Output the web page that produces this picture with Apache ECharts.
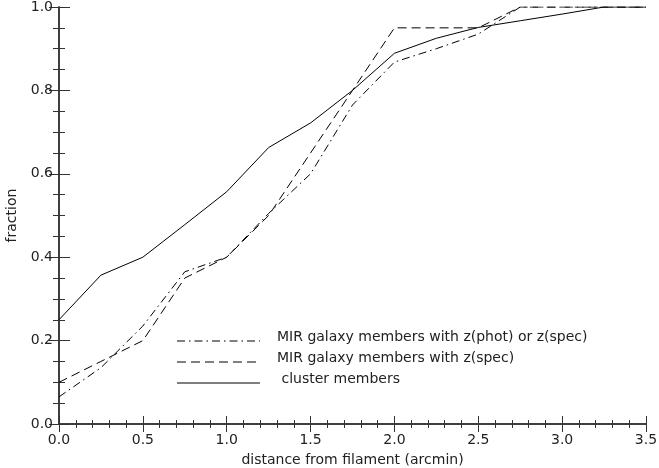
<!DOCTYPE html>
<html>
<head>
<meta charset="utf-8">
<script src="https://cdn.jsdelivr.net/npm/echarts@6/dist/echarts.min.js"></script>
<style>
  html, body { margin: 0; padding: 0; background: #fff; }
  #chart { width: 659px; height: 468px; }
</style>
</head>
<body>
<div id="chart"></div>
<script>
// distance from filament (arcmin)
var distances = [0, 0.25, 0.5, 0.75, 1.0, 1.25, 1.5, 1.75, 2.0, 2.25, 2.5, 2.75, 3.0, 3.25, 3.5];
// cumulative fractions
var photOrSpec = [0.065, 0.135, 0.235, 0.365, 0.40, 0.505, 0.60, 0.765, 0.868, 0.90, 0.935, 1.0, 1.0, 1.0, 1.0];
var specOnly   = [0.10, 0.15, 0.20, 0.35, 0.40, 0.50, 0.65, 0.80, 0.95, 0.95, 0.95, 1.0, 1.0, 1.0, 1.0];
var cluster    = [0.25, 0.357, 0.40, 0.478, 0.557, 0.663, 0.722, 0.80, 0.889, 0.925, 0.951, 0.967, 0.983, 1.0, 1.0];

var legendNames = [
  'MIR galaxy members with z(phot) or z(spec)',
  'MIR galaxy members with z(spec)',
  ' cluster members'
];

var dashDot = [8, 4, 1.5, 4];
var dashed = [9, 5];

function pairs(ys) {
  return distances.map(function (x, i) { return [x, ys[i]]; });
}

var font = 'DejaVu Sans';
var fs = 14;
var axisCol = '#333';
var textCol = '#222';

var chart = echarts.init(document.getElementById('chart'));

function legendRow(i, dash, y) {
  return [
    { type: 'line', shape: { x1: 177, y1: y, x2: 260, y2: y },
      style: { stroke: '#000', lineWidth: 1, lineDash: dash } },
    { type: 'text', x: 277, y: y - 4,
      style: { text: legendNames[i], fill: textCol, font: fs + 'px "' + font + '"', textVerticalAlign: 'middle' } }
  ];
}

var option = {
  animation: false,
  backgroundColor: '#fff',
  grid: { left: 59, right: 13, top: 7, bottom: 44, containLabel: false, outerBoundsMode: 'none' },
  xAxis: [{
    type: 'value', min: 0, max: 3.5, interval: 0.5,
    name: 'distance from filament (arcmin)', nameLocation: 'middle', nameGap: 29,
    nameTextStyle: { fontFamily: font, fontSize: fs, color: textCol },
    axisLine: { lineStyle: { color: axisCol, width: 1.5 } },
    axisTick: { inside: true, length: 8, lineStyle: { color: axisCol } },
    minorTick: { show: true, splitNumber: 5, length: 4, lineStyle: { color: axisCol } },
    axisLabel: { fontFamily: font, fontSize: fs, color: textCol, margin: 9,
      formatter: function (v) { return v.toFixed(1); } },
    splitLine: { show: false }
  }, {
    type: 'value', position: 'top', min: 0, max: 3.5, interval: 0.5,
    axisLine: { lineStyle: { color: axisCol, width: 1.5 } },
    axisTick: { inside: true, length: 8, lineStyle: { color: axisCol } },
    minorTick: { show: true, splitNumber: 5, length: 4, lineStyle: { color: axisCol } },
    axisLabel: { show: false }, splitLine: { show: false }
  }],
  yAxis: [{
    type: 'value', min: 0, max: 1, interval: 0.2,
    name: 'fraction', nameLocation: 'middle', nameGap: 39,
    nameTextStyle: { fontFamily: font, fontSize: fs, color: textCol },
    axisLine: { show: true, lineStyle: { color: axisCol, width: 1.5 } },
    axisTick: { show: true, inside: true, length: 11, lineStyle: { color: axisCol } },
    minorTick: { show: true, splitNumber: 4, length: 6, lineStyle: { color: axisCol } },
    axisLabel: { fontFamily: font, fontSize: fs, color: textCol, margin: 6,
      formatter: function (v) { return v.toFixed(1); } },
    splitLine: { show: false }
  }, {
    type: 'value', position: 'right', min: 0, max: 1, interval: 0.2,
    axisLine: { show: true, lineStyle: { color: axisCol, width: 1.5 } },
    axisTick: { show: true, inside: true, length: 10, lineStyle: { color: axisCol } },
    minorTick: { show: true, splitNumber: 4, length: 6, lineStyle: { color: axisCol } },
    axisLabel: { show: false }, splitLine: { show: false }
  }],
  series: [
    { name: legendNames[0], type: 'line', data: pairs(photOrSpec), showSymbol: false,
      lineStyle: { color: '#000', width: 1, type: dashDot } },
    { name: legendNames[1], type: 'line', data: pairs(specOnly), showSymbol: false,
      lineStyle: { color: '#000', width: 1, type: dashed } },
    { name: legendNames[2], type: 'line', data: pairs(cluster), showSymbol: false,
      lineStyle: { color: '#000', width: 1, type: 'solid' } }
  ],
  graphic: [].concat(
    legendRow(0, dashDot, 341),
    legendRow(1, dashed, 362),
    legendRow(2, null, 383)
  )
};

chart.setOption(option);
</script>
</body>
</html>
